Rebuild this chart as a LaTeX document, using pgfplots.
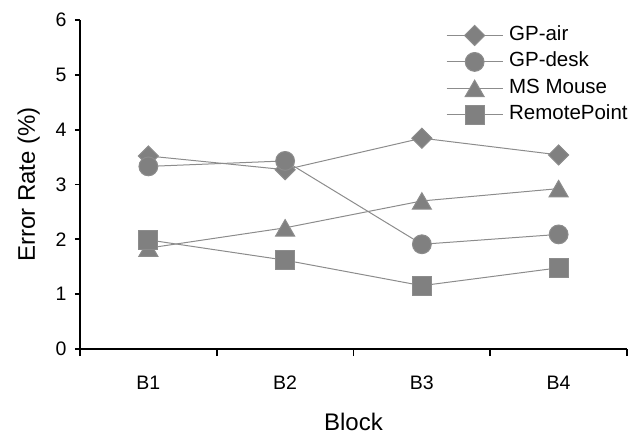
\documentclass[border=0pt]{standalone}
\usepackage{fontspec}
\setmainfont{Liberation Sans}
\usepackage{pgfplots}
\pgfplotsset{compat=1.18}
\definecolor{mk}{HTML}{808080}
\definecolor{ln}{HTML}{8C8C8C}
\begin{document}
\begin{tikzpicture}
\begin{axis}[
  scale only axis,
  width=547bp, height=329bp,
  xmin=0.5, xmax=4.5, ymin=0, ymax=6,
  axis x line*=bottom, axis y line*=left,
  axis line style={line width=1.8bp, black},
  every tick/.style={line width=1.8bp, black},
  tick align=outside,
  ytick={0,1,2,3,4,5,6},
  major tick length=5bp,
  minor tick length=7bp,
  xtick={1,2,3,4},
  xticklabels={B1,B2,B3,B4},
  minor xtick={0.5,1.5,2.5,3.5,4.5},
  major x tick style={draw=none},
  minor x tick style={line width=1.8bp, black},
  xticklabel style={anchor=base, yshift=-35bp},
  yticklabel style={xshift=-5bp},
  /pgf/number format/assume math mode=true,
  tick label style={font=\fontsize{19.5bp}{22bp}\selectfont},
  xlabel={Block}, ylabel={Error Rate (\%)},
  label style={font=\fontsize{24bp}{28bp}\selectfont},
  xlabel style={at={(axis description cs:0.5,-0.2462)}, anchor=base},
  ylabel style={at={(axis description cs:-0.0823,0.5)}, anchor=base},
  legend style={draw=none, fill=none, at={(rel axis cs:0.669,0.994)}, anchor=north west,
    inner sep=0pt, column sep=6bp, row sep=0pt,
    font=\fontsize{20.5bp}{24bp}\selectfont,
    nodes={inner xsep=0pt, inner ysep=3.25bp, text height=15bp, text depth=5bp}},
  legend cell align=left,
  legend image code/.code={\draw[mark repeat=2,mark phase=2,#1] plot coordinates {(0bp,0bp)(28bp,0bp)(56bp,0bp)};},
  every axis plot/.append style={line width=1bp, color=ln, mark options={fill=mk, draw=none, solid}},
  clip=false,
]
\addplot[mark=square*, mark size=7.1bp, mark options={rotate=45, fill=mk, draw=none}] coordinates {(1,3.52) (2,3.27) (3,3.845) (4,3.54)};
\addlegendentry{GP-air}
\addplot[mark=*, mark size=9.4bp] coordinates {(1,3.33) (2,3.43) (3,1.91) (4,2.09)};
\addlegendentry{GP-desk}
\addplot[mark=triangle*, mark size=11bp, mark options={yshift=-2.75bp, fill=mk, draw=none}] coordinates {(1,1.84) (2,2.21) (3,2.70) (4,2.925)};
\addlegendentry{MS Mouse}
\addplot[mark=square*, mark size=9.5bp] coordinates {(1,1.99) (2,1.62) (3,1.155) (4,1.48)};
\addlegendentry{RemotePoint}
\coordinate (ll) at (rel axis cs:0,0);
\coordinate (ur) at (rel axis cs:1,1);
\end{axis}
\pgfresetboundingbox
\path ([shift={(-80bp,-86bp)}]ll) rectangle ([shift={(4bp,20bp)}]ur);
\end{tikzpicture}
\end{document}
